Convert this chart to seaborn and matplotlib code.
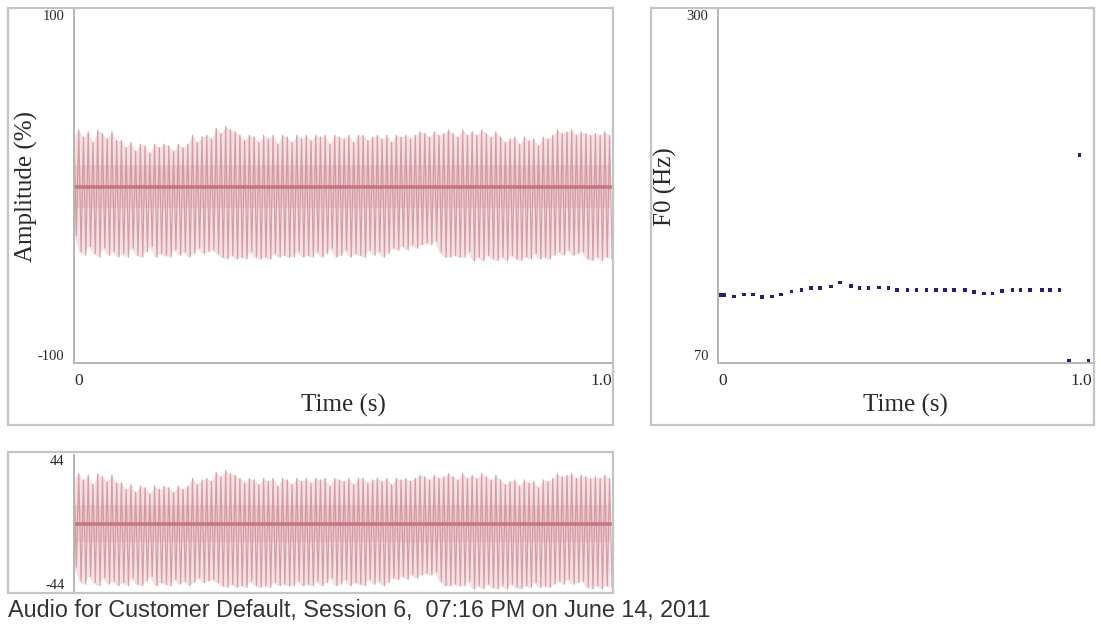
import numpy as np
import pandas as pd
import matplotlib
matplotlib.use("Agg")
import matplotlib.pyplot as plt
from matplotlib.patches import Rectangle
import seaborn as sns

# ---- waveform: per-cycle positive peaks and negative troughs (amplitude %) ----
peaks = [
    29, 32, 28, 31, 25, 32, 30, 27, 31, 26,
    26, 22, 25, 20, 24, 23, 19, 24, 22, 24,
    23, 20, 24, 22, 24, 29, 25, 28, 29, 27,
    33, 30, 34, 32, 31, 29, 26, 29, 28, 25,
    29, 27, 29, 24, 29, 28, 25, 29, 27, 29,
    26, 29, 28, 29, 24, 29, 28, 27, 29, 25,
    29, 29, 26, 28, 29, 27, 29, 25, 29, 28,
    29, 27, 29, 31, 30, 28, 31, 29, 30, 32,
    30, 28, 32, 29, 31, 29, 32, 30, 28, 31,
    28, 25, 27, 28, 24, 28, 26, 27, 23, 28,
    27, 29, 32, 30, 31, 32, 29, 31, 30, 29,
    30, 29, 31, 29,
]
troughs = [
    -28, -37, -39, -34, -38, -40, -35, -39, -37, -40,
    -38, -40, -35, -39, -40, -37, -34, -40, -38, -39,
    -40, -36, -39, -37, -40, -38, -35, -38, -37, -36,
    -38, -40, -41, -39, -41, -40, -41, -37, -40, -41,
    -40, -41, -38, -40, -39, -40, -40, -37, -40, -39,
    -40, -37, -40, -38, -35, -40, -39, -36, -40, -38,
    -39, -40, -36, -39, -37, -40, -38, -35, -36, -34,
    -36, -33, -35, -33, -32, -33, -31, -37, -40, -40,
    -39, -40, -40, -37, -42, -40, -42, -39, -41, -42,
    -40, -42, -39, -41, -42, -40, -41, -38, -41, -40,
    -41, -39, -37, -39, -36, -39, -38, -37, -41, -42,
    -40, -42, -40, -41,
]
duration = 1.0

# ---- pitch track (F0, Hz) ----
f0_time = [
    0.005, 0.016, 0.043, 0.070, 0.094, 0.118, 0.144, 0.168, 0.197, 0.224,
    0.249, 0.273, 0.302, 0.326, 0.356, 0.378, 0.402, 0.430, 0.456, 0.479,
    0.506, 0.531, 0.558, 0.583, 0.607, 0.631, 0.660, 0.684, 0.711, 0.734,
    0.759, 0.788, 0.809, 0.834, 0.866, 0.888, 0.913, 0.939, 0.966, 0.990,
]
f0_hz = [
    114.3, 114.3, 113.2, 114.8, 114.8, 113.0, 113.2, 114.5, 116.7, 117.6,
    118.9, 118.9, 119.7, 122.3, 120.2, 118.9, 118.9, 119.1, 118.9, 117.6,
    117.6, 117.6, 117.6, 117.6, 117.6, 117.6, 117.6, 116.3, 115.4, 115.4,
    116.9, 117.6, 117.6, 117.6, 117.6, 117.6, 117.6, 71.5, 205.5, 71.5,
]

amp_ticks = [-100, 100]
zoom_ticks = [-44, 44]
f0_ticks = [70, 300]
time_ticks = [0, 1.0]
time_labels = ["0", "1.0"]
caption = "Audio for Customer Default, Session 6,  07:16 PM on June 14, 2011"

# interleave peaks and troughs into one sample stream
signal = np.empty(2 * len(peaks))
signal[0::2] = peaks
signal[1::2] = troughs
t_samples = np.linspace(0, duration, signal.size)
wave = pd.DataFrame({"t": t_samples, "amp": signal})
env = pd.DataFrame({"t": t_samples[0::2], "hi": peaks, "lo": troughs})
pitch = pd.DataFrame({"t": f0_time, "f0": f0_hz})

sns.set_theme(style="white")
plt.rcParams["font.family"] = ["Liberation Serif", "DejaVu Serif"]

W, H = 1101, 634
fig = plt.figure(figsize=(W / 100, H / 100), dpi=100)
fig.patch.set_facecolor("white")


def px_axes(l, t, r, b):
    return fig.add_axes([l / W, 1 - b / H, (r - l) / W, (b - t) / H])


def frame(l, t, r, b):
    fig.patches.append(Rectangle((l / W, 1 - b / H), (r - l) / W, (b - t) / H,
                                 transform=fig.transFigure, fill=False,
                                 edgecolor="#c4c4c4", lw=1.6, zorder=0))


frame(8, 8, 613, 425)
frame(651, 8, 1094, 425)
frame(8, 452, 613, 593)

ax_wave = px_axes(74, 10, 612, 363)
ax_f0 = px_axes(718, 10, 1092, 363)
ax_zoom = px_axes(74, 455, 612, 592)

line_col = "#cb8d97"
fill_col = "#f5e1e4"
band_col = "#e6aeb6"
zero_col = "#bf6f7b"
tick_col = "#2a2a2a"


def style_axes(ax, yticks, xticks=None, show_bottom=True):
    ax.set_facecolor("none")
    for s in ("top", "right"):
        ax.spines[s].set_visible(False)
    ax.spines["left"].set_color("#b5b5b5")
    ax.spines["left"].set_linewidth(1.4)
    ax.spines["bottom"].set_visible(show_bottom)
    ax.spines["bottom"].set_color("#b5b5b5")
    ax.spines["bottom"].set_linewidth(1.4)
    ax.set_ylim(yticks[0], yticks[-1])
    ax.set_yticks(yticks)
    ax.set_yticklabels([str(v) for v in yticks], fontsize=10.5, color=tick_col)
    ylabs = ax.get_yticklabels()
    ylabs[0].set_va("bottom")
    ylabs[-1].set_va("top")
    ax.tick_params(axis="both", length=0, pad=7)
    if xticks is not None:
        ax.set_xlim(xticks[0], xticks[-1])
        ax.set_xticks(xticks)
        ax.set_xticklabels(time_labels, fontsize=12.5, color=tick_col)
        xlabs = ax.get_xticklabels()
        xlabs[0].set_ha("left")
        xlabs[-1].set_ha("right")
    else:
        ax.set_xlim(0, duration)
        ax.set_xticks([])
    ax.grid(False)


def draw_wave(ax):
    # pale body of the waveform between its peak and trough envelopes
    ax.fill_between(env["t"], env["lo"], env["hi"], color=fill_col, lw=0)
    ax.fill_between(env["t"], -12, 12, color=band_col, alpha=0.4, lw=0)
    sns.lineplot(data=wave, x="t", y="amp", ax=ax, color=line_col, lw=0.9,
                 alpha=0.8, estimator=None, sort=False)
    ax.axhline(0, color=zero_col, lw=2.6, alpha=0.85)


# amplitude waveform
draw_wave(ax_wave)
style_axes(ax_wave, amp_ticks, time_ticks)
ax_wave.set_xlabel("Time (s)", fontsize=18, color=tick_col, labelpad=4)
ax_wave.set_ylabel("Amplitude (%)", fontsize=18, color=tick_col)
ax_wave.yaxis.set_label_coords(-0.066, 0.5)

# zoomed waveform
draw_wave(ax_zoom)
style_axes(ax_zoom, zoom_ticks, None, show_bottom=False)
ax_zoom.set_xlabel("")
ax_zoom.set_ylabel("")

# pitch track
sns.scatterplot(data=pitch, x="t", y="f0", ax=ax_f0, marker="s", s=6,
                color="#22226e", edgecolor="none", clip_on=False)
style_axes(ax_f0, f0_ticks, time_ticks)
ax_f0.set_xlabel("Time (s)", fontsize=18, color=tick_col, labelpad=4)
ax_f0.set_ylabel("F0 (Hz)", fontsize=18, color=tick_col)
ax_f0.yaxis.set_label_coords(-0.11, 0.5)

fig.text(8 / W, 1 - 611 / H, caption, fontsize=16.8, color="#333333",
         family=["Liberation Sans", "DejaVu Sans"], ha="left", va="center")

fig.savefig("out.png", dpi=100, facecolor="white")
